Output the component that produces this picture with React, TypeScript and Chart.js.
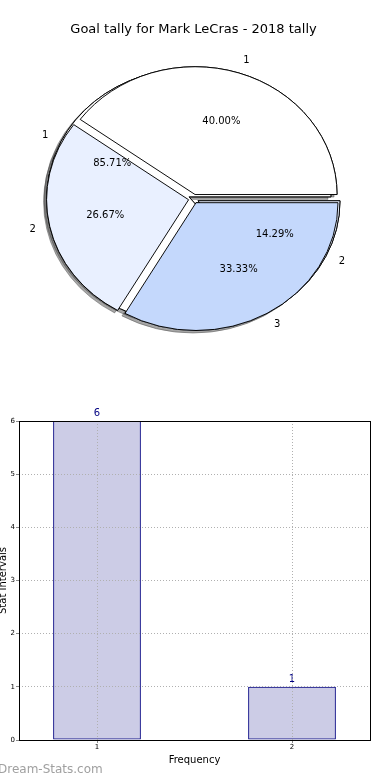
import React, { useEffect, useRef } from "react";
import { Chart, registerables } from "chart.js";

Chart.register(...registerables);

// ---------- data ----------
const TITLE = "Goal tally for Mark LeCras - 2018 tally";
const pieALabels = ["1", "2"];
const pieAValues = [6, 1];
const pieBLabels = ["1", "2", "3"];
const pieBValues = [6, 4, 5];
const pieColors = ["#ffffff", "#e9f0ff", "#c4d8fc"];

const barCategories = [1, 2];
const barValues = [6, 1];
const yTicks = [0, 1, 2, 3, 4, 5, 6];
const xTicks = [1, 2];
const xLabel = "Frequency";
const yLabel = "Stat Intervals";
const WATERMARK = "Dream-Stats.com";

// ---------- style ----------
const FONT = "'DejaVu Sans', sans-serif";
const Y_SCALE = 0.9;
const EXPLODE = 5;
const PIE_RADIUS = 142;

function drawPieLabels(chart: any, ctx: CanvasRenderingContext2D) {
  const meta = chart.getDatasetMeta(0);
  const data = chart.data.datasets[0].data as number[];
  const labels = chart.data.labels as string[];
  const total = data.reduce((a, b) => a + b, 0);
  const first = meta.data[0] as any;
  const cx = first.x;
  const cy = first.y;
  ctx.save();
  ctx.fillStyle = "#000000";
  ctx.font = `10px ${FONT}`;
  ctx.textBaseline = "middle";
  meta.data.forEach((el: any, i: number) => {
    const mid = (el.startAngle + el.endAngle) / 2;
    const r = el.outerRadius;
    const ux = Math.cos(mid);
    const uy = Math.sin(mid);
    const pd = EXPLODE + 0.6 * r;
    const ld = EXPLODE + 1.1 * r;
    ctx.textAlign = "center";
    ctx.fillText(((data[i] / total) * 100).toFixed(2) + "%", cx + ux * pd, cy + uy * pd * Y_SCALE);
    ctx.textAlign = ux > 0 ? "left" : "right";
    ctx.fillText(labels[i], cx + ux * ld, cy + uy * ld * Y_SCALE);
  });
  ctx.restore();
}

function drawWedges(chart: any, ctx: CanvasRenderingContext2D, shadow: boolean) {
  const meta = chart.getDatasetMeta(0);
  if (!meta || !meta.data.length) return;
  const first = meta.data[0] as any;
  const cx = first.x;
  const cy = first.y;
  meta.data.forEach((el: any) => {
    const mid = (el.startAngle + el.endAngle) / 2;
    ctx.save();
    ctx.translate(cx, cy);
    ctx.scale(1, Y_SCALE);
    ctx.translate(-cx, -cy);
    ctx.translate(Math.cos(mid) * EXPLODE, Math.sin(mid) * EXPLODE);
    if (shadow) {
      ctx.shadowColor = "rgba(77,77,77,0.5)";
      ctx.shadowOffsetX = -3;
      ctx.shadowOffsetY = 2.5;
      ctx.shadowBlur = 0;
    }
    el.draw(ctx);
    ctx.restore();
  });
}

// shadowCharts: pies whose shadows go on this (lower) layer; textCharts: pies whose texts go on top
function piePlugin(shadowCharts: () => any[], textCharts: () => any[]) {
  return {
    id: "mplPie",
    beforeDatasetsDraw(chart: any) {
      const ctx = chart.ctx as CanvasRenderingContext2D;
      shadowCharts().forEach((c) => {
        if (c) drawWedges(c, ctx, true);
      });
      drawWedges(chart, ctx, false);
      return false;
    },
    afterDraw(chart: any) {
      textCharts().forEach((c) => {
        if (c) drawPieLabels(c, chart.ctx);
      });
    },
  };
}

function pieConfig(
  labels: string[],
  values: number[],
  titleColor: string,
  shadowCharts: () => any[],
  textCharts: () => any[]
): any {
  const rl = [...labels].reverse();
  const rv = [...values].reverse();
  const rc = pieColors.slice(0, values.length).reverse();
  return {
    type: "pie",
    data: {
      labels: rl,
      datasets: [
        {
          data: rv,
          backgroundColor: rc,
          borderColor: "#000000",
          borderWidth: 1,
        },
      ],
    },
    options: {
      animation: false,
      responsive: false,
      rotation: 90,
      radius: PIE_RADIUS,
      layout: { padding: { top: 0, left: 0, right: 3, bottom: 40 } },
      plugins: {
        legend: { display: false },
        tooltip: { enabled: false },
        title: {
          display: true,
          text: TITLE,
          color: titleColor,
          font: { family: FONT, size: 13, weight: "normal", lineHeight: 1.2 },
          padding: { top: 22, bottom: 0 },
        },
      },
    },
    plugins: [piePlugin(shadowCharts, textCharts)],
  };
}

const framePlugin = {
  id: "frame",
  afterDraw(chart: any) {
    const { left, top, right, bottom } = chart.chartArea;
    const ctx = chart.ctx as CanvasRenderingContext2D;
    ctx.save();
    ctx.strokeStyle = "#000000";
    ctx.lineWidth = 1;
    const x0 = Math.floor(left) + 0.5;
    const y0 = Math.floor(top) + 0.5;
    const x1 = Math.floor(right) + 0.5;
    const y1 = Math.floor(bottom) + 0.5;
    ctx.strokeRect(x0, y0, x1 - x0, y1 - y0);
    ctx.restore();
  },
};

const barValuePlugin = {
  id: "barValues",
  afterDatasetsDraw(chart: any) {
    const ctx = chart.ctx as CanvasRenderingContext2D;
    const meta = chart.getDatasetMeta(0);
    ctx.save();
    ctx.fillStyle = "#000080";
    ctx.font = `10px ${FONT}`;
    ctx.textAlign = "center";
    ctx.textBaseline = "alphabetic";
    meta.data.forEach((el: any, i: number) => {
      ctx.fillText(String(barValues[i]), el.x, el.y - 5);
    });
    ctx.restore();
  },
};

const gridOpts = {
  color: "#b0b0b0",
  lineWidth: 1,
  z: 1,
  offset: false,
  drawTicks: true,
  tickLength: 3,
  tickColor: "#888888",
  tickBorderDash: [],
};

export default function App() {
  const pieARef = useRef<HTMLCanvasElement>(null);
  const pieBRef = useRef<HTMLCanvasElement>(null);
  const barRef = useRef<HTMLCanvasElement>(null);

  useEffect(() => {
    const charts: Chart[] = [];
    const refs: { a: any; b: any } = { a: null, b: null };
    // lower layer: shadows of both pies, then the wedges of pie A
    refs.a = new Chart(
      pieARef.current!,
      pieConfig(pieALabels, pieAValues, "rgba(0,0,0,0)", () => [refs.a, refs.b], () => [])
    );
    // upper layer: wedges of pie B, then texts of both pies
    refs.b = new Chart(
      pieBRef.current!,
      pieConfig(pieBLabels, pieBValues, "#000000", () => [], () => [refs.a, refs.b])
    );
    refs.a.draw();
    refs.b.draw();
    charts.push(refs.a, refs.b);
    charts.push(
      new Chart(barRef.current!, {
        type: "bar",
        data: {
          datasets: [
            {
              data: barCategories.map((c, i) => ({ x: c, y: barValues[i] })),
              backgroundColor: "rgba(0,0,128,0.2)",
              borderColor: "#000080",
              borderWidth: 1,
              borderSkipped: false,
              barPercentage: 0.45,
              categoryPercentage: 1,
            } as any,
          ],
        },
        options: {
          animation: false,
          responsive: false,
          layout: { padding: { top: 26, right: 20, bottom: 14, left: 0 } },
          plugins: { legend: { display: false }, tooltip: { enabled: false } },
          scales: {
            x: {
              type: "linear",
              offset: false,
              min: 0.6,
              max: 2.4,
              afterBuildTicks: (s: any) => {
                s.ticks = xTicks.map((v) => ({ value: v }));
              },
              afterFit: (s: any) => {
                s.height = 26;
              },
              ticks: { font: { family: FONT, size: 7 }, color: "#000000", padding: 0, maxRotation: 0 },
              grid: gridOpts as any,
              border: { display: false, dash: [1, 2] },
              title: {
                display: true,
                text: xLabel,
                color: "#000000",
                font: { family: FONT, size: 10, lineHeight: 1.2 },
                padding: { top: 0, bottom: 0 },
              },
            },
            y: {
              type: "linear",
              min: 0,
              max: 6,
              afterBuildTicks: (s: any) => {
                s.ticks = yTicks.map((v) => ({ value: v }));
              },
              afterFit: (s: any) => {
                s.width = 25;
              },
              ticks: { font: { family: FONT, size: 7 }, color: "#000000", padding: 1 },
              grid: gridOpts as any,
              border: { display: false, dash: [1, 2] },
              title: {
                display: true,
                text: yLabel,
                color: "#000000",
                font: { family: FONT, size: 10, lineHeight: 1.2 },
                padding: { top: 3, bottom: 0 },
              },
            },
          },
        } as any,
        plugins: [framePlugin, barValuePlugin],
      })
    );
    return () => charts.forEach((c) => c.destroy());
  }, []);

  return (
    <div
      style={{
        position: "fixed",
        left: 0,
        top: 0,
        width: 390,
        height: 780,
        background: "#ffffff",
        overflow: "hidden",
      }}
    >
      <canvas ref={pieARef} width={390} height={400} style={{ position: "absolute", left: 0, top: 0 }} />
      <canvas ref={pieBRef} width={390} height={400} style={{ position: "absolute", left: 0, top: 0 }} />
      <canvas ref={barRef} width={396} height={385} style={{ position: "absolute", left: -6, top: 395 }} />
      <div
        style={{
          position: "absolute",
          left: -2,
          top: 762.5,
          fontFamily: FONT,
          fontSize: 12,
          lineHeight: "12px",
          color: "#a0a0a0",
          whiteSpace: "nowrap",
        }}
      >
        {WATERMARK}
      </div>
    </div>
  );
}
